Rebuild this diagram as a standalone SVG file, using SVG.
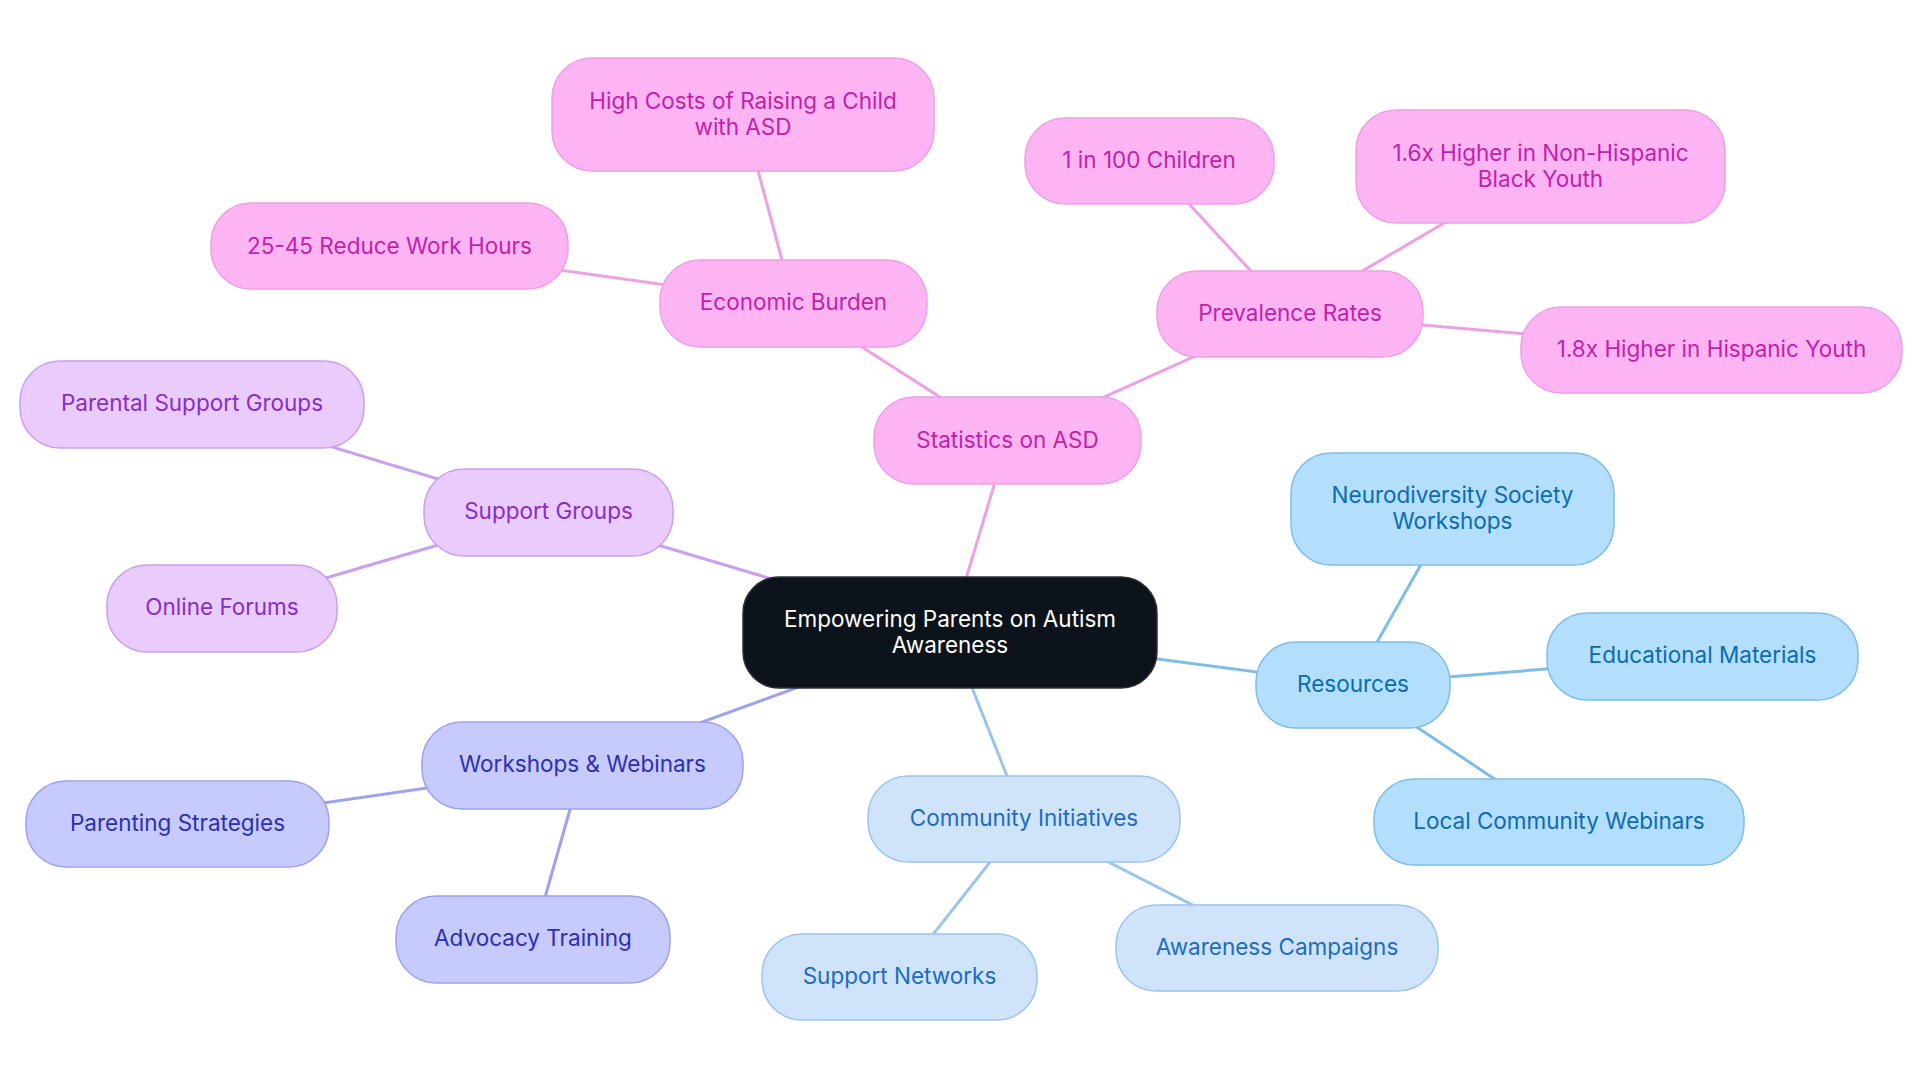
<svg xmlns="http://www.w3.org/2000/svg" width="1920" height="1083" viewBox="0 0 1920 1083">
<style>
text{font-family:Inter,"Noto Sans",sans-serif;font-size:22.5px;text-anchor:middle;dominant-baseline:central}
.e{stroke-width:3;fill:none}
.pk rect{fill:#fdb4f3;stroke:#eda0e3;stroke-width:1.5}.pk text{fill:#c21fab}
.pu rect{fill:#e9cbfc;stroke:#c9a0ef;stroke-width:1.5}.pu text{fill:#8a2cc8}
.in rect{fill:#c7cafd;stroke:#9ea1ec;stroke-width:1.5}.in text{fill:#2d2fb2}
.lb rect{fill:#cfe3fb;stroke:#9dc4ee;stroke-width:1.5}.lb text{fill:#1d6cc1}
.sb rect{fill:#b3defc;stroke:#7fbde9;stroke-width:1.5}.sb text{fill:#0b6cb2}
.ep{stroke:#eda0e3}.eu{stroke:#c9a0ef}.ei{stroke:#9ea1ec}.el{stroke:#9dc4ee}.es{stroke:#7fbde9}
</style>
<rect width="1920" height="1083" fill="#ffffff"/>
<g id="connectors">
<line class="e ep" x1="950" y1="632" x2="1007.5" y2="440.5"/>
<line class="e ep" x1="1007.5" y1="440.5" x2="793.5" y2="303"/>
<line class="e ep" x1="793.5" y1="303" x2="743" y2="114.5"/>
<line class="e ep" x1="793.5" y1="303" x2="389.5" y2="246"/>
<line class="e ep" x1="1007.5" y1="440.5" x2="1290" y2="313.5"/>
<line class="e ep" x1="1290" y1="313.5" x2="1149" y2="160.5"/>
<line class="e ep" x1="1290" y1="313.5" x2="1540.5" y2="166.5"/>
<line class="e ep" x1="1290" y1="313.5" x2="1711.5" y2="350"/>
<line class="e eu" x1="950" y1="632" x2="548.5" y2="512.5"/>
<line class="e eu" x1="548.5" y1="512.5" x2="192" y2="404.5"/>
<line class="e eu" x1="548.5" y1="512.5" x2="222" y2="608.5"/>
<line class="e ei" x1="950" y1="632" x2="582.5" y2="765.5"/>
<line class="e ei" x1="582.5" y1="765.5" x2="177.5" y2="824"/>
<line class="e ei" x1="582.5" y1="765.5" x2="533" y2="939.5"/>
<line class="e es" x1="950" y1="632" x2="1353" y2="684.5"/>
<line class="e es" x1="1353" y1="684.5" x2="1452.5" y2="509"/>
<line class="e es" x1="1353" y1="684.5" x2="1702.5" y2="656.5"/>
<line class="e es" x1="1353" y1="684.5" x2="1559" y2="822"/>
<line class="e el" x1="950" y1="632" x2="1024" y2="819"/>
<line class="e el" x1="1024" y1="819" x2="899.5" y2="977"/>
<line class="e el" x1="1024" y1="819" x2="1277" y2="948"/>
</g>
<g id="root"><rect x="743" y="577" width="414" height="111" rx="36" fill="#0c131b" stroke="#2b3038" stroke-width="1.5"/><text x="950" y="618" fill="#ffffff">Empowering Parents on Autism</text><text x="950" y="644" fill="#ffffff">Awareness</text></g>
<g id="statistics" class="pk"><rect x="874" y="397" width="267" height="87" rx="40"/><text x="1007.5" y="439">Statistics on ASD</text></g>
<g id="economic" class="pk"><rect x="660" y="260" width="267" height="87" rx="40"/><text x="793.5" y="301">Economic Burden</text></g>
<g id="highcosts" class="pk"><rect x="552" y="58" width="382" height="113" rx="40"/><text x="743" y="100">High Costs of Raising a Child</text><text x="743" y="126">with ASD</text></g>
<g id="reduce" class="pk"><rect x="211" y="203" width="357" height="86" rx="40"/><text x="389.5" y="245">25-45 Reduce Work Hours</text></g>
<g id="prevalence" class="pk"><rect x="1157" y="271" width="266" height="86" rx="40"/><text x="1290" y="312">Prevalence Rates</text></g>
<g id="onein100" class="pk"><rect x="1025" y="118" width="249" height="86" rx="40"/><text x="1149" y="159">1 in 100 Children</text></g>
<g id="black" class="pk"><rect x="1356" y="110" width="369" height="113" rx="40"/><text x="1540.5" y="152">1.6x Higher in Non-Hispanic</text><text x="1540.5" y="178">Black Youth</text></g>
<g id="hispanic" class="pk"><rect x="1521" y="307" width="381" height="86" rx="40"/><text x="1711.5" y="348">1.8x Higher in Hispanic Youth</text></g>
<g id="supportgroups" class="pu"><rect x="424" y="469" width="249" height="87" rx="40"/><text x="548.5" y="510">Support Groups</text></g>
<g id="parental" class="pu"><rect x="20" y="361" width="344" height="87" rx="40"/><text x="192" y="402">Parental Support Groups</text></g>
<g id="online" class="pu"><rect x="107" y="565" width="230" height="87" rx="40"/><text x="222" y="606">Online Forums</text></g>
<g id="workshops" class="in"><rect x="422" y="722" width="321" height="87" rx="40"/><text x="582.5" y="763">Workshops &amp; Webinars</text></g>
<g id="parenting" class="in"><rect x="26" y="781" width="303" height="86" rx="40"/><text x="177.5" y="822">Parenting Strategies</text></g>
<g id="advocacy" class="in"><rect x="396" y="896" width="274" height="87" rx="40"/><text x="533" y="937">Advocacy Training</text></g>
<g id="resources" class="sb"><rect x="1256" y="642" width="194" height="86" rx="40"/><text x="1353" y="683">Resources</text></g>
<g id="neuro" class="sb"><rect x="1291" y="453" width="323" height="112" rx="40"/><text x="1452.5" y="494">Neurodiversity Society</text><text x="1452.5" y="520">Workshops</text></g>
<g id="educational" class="sb"><rect x="1547" y="613" width="311" height="87" rx="40"/><text x="1702.5" y="654">Educational Materials</text></g>
<g id="local" class="sb"><rect x="1374" y="779" width="370" height="86" rx="40"/><text x="1559" y="820">Local Community Webinars</text></g>
<g id="community" class="lb"><rect x="868" y="776" width="312" height="86" rx="40"/><text x="1024" y="817">Community Initiatives</text></g>
<g id="supportnetworks" class="lb"><rect x="762" y="934" width="275" height="86" rx="40"/><text x="899.5" y="975">Support Networks</text></g>
<g id="awareness" class="lb"><rect x="1116" y="905" width="322" height="86" rx="40"/><text x="1277" y="946">Awareness Campaigns</text></g>
</svg>
